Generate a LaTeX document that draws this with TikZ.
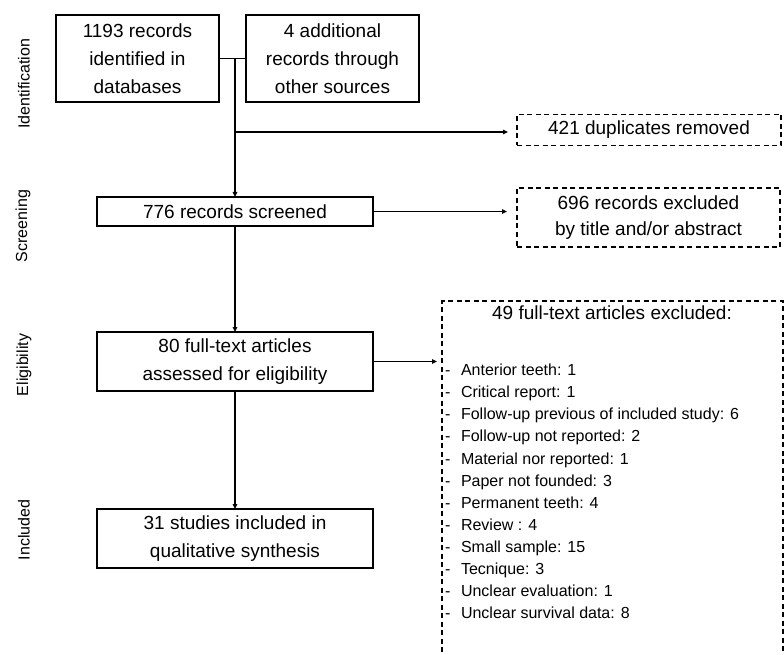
\documentclass[tikz,border=0pt]{standalone}
\usepackage{fontspec}
\setmainfont{Liberation Sans}
\usetikzlibrary{arrows.meta,calc}
\newcommand\exdash{-\hspace{10.5pt}}
\begin{document}
\begin{tikzpicture}[x=1pt,y=-1pt,
  box/.style={draw, line width=1.3pt, align=center, inner sep=0pt, outer sep=0pt, font=\fontsize{19}{28}\selectfont},
  dbox/.style={box, dash pattern=on 5pt off 3.5pt},
  link/.style={line width=1.1pt},
  arr/.style={link, -{Triangle[length=5pt,width=4.5pt]}},
  side/.style={rotate=90, inner sep=0pt, font=\fontsize{16}{19}\selectfont},
  plain/.style={inner sep=0pt, align=left, font=\fontsize{16}{22.1}\selectfont},
]
\useasboundingbox (0,0) rectangle (784,655);

% side labels
\node[side] (lid) at (24,84) {Identification};
\node[side] (lsc) at (23,226) {Screening};
\node[side] (lel) at (24,365) {Eligibility};
\node[side] (lin) at (24,530) {Included};

% main boxes
\node[box, minimum width=163pt, minimum height=87pt] (db) at (137.5,58.5) {1193 records\\identified in\\databases};
\node[box, minimum width=173pt, minimum height=87pt] (os) at (332.5,58.5) {4 additional\\records through\\other sources};
\node[dbox, minimum width=264pt, minimum height=31pt] (dup) at (649,130) {421 duplicates removed};
\node[box, minimum width=276pt, minimum height=29pt] (scr) at (235,211.5) {776 records screened};
\node[dbox, minimum width=263pt, minimum height=59pt] (exa) at (648.5,217.5) {696 records excluded\\[-2pt]by title and/or abstract};
\node[box, minimum width=276pt, minimum height=59pt] (elig) at (235,361.5) {80 full-text articles\\assessed for eligibility};
\node[box, minimum width=276pt, minimum height=59pt] (incl) at (235,538.5) {31 studies included in\\qualitative synthesis};

% large exclusion box (runs past the bottom edge)
\node[dbox, anchor=north west, minimum width=341pt, minimum height=400pt] (exf) at (442,301) {};
\node[inner sep=0pt, font=\fontsize{19}{28}\selectfont] (exft) at (612,313) {49 full-text articles excluded:};
\node[plain, anchor=west] (exfl) at (445,491.5) {%
\exdash Anterior teeth: 1\\
\exdash Critical report: 1\\
\exdash Follow-up previous of included study: 6\\
\exdash Follow-up not reported: 2\\
\exdash Material nor reported: 1\\
\exdash Paper not founded: 3\\
\exdash Permanent teeth: 4\\
\exdash Review : 4\\
\exdash Small sample: 15\\
\exdash Tecnique: 3\\
\exdash Unclear evaluation: 1\\
\exdash Unclear survival data: 8};

% connectors
\coordinate (j1) at (scr.north |- db.east);
\coordinate (j2) at (scr.north |- 0,132);
\draw[link] (db.east) -- (os.west);
\draw[arr] (j1) -- (scr.north);
\draw[arr, shorten >=9pt] (j2) -- (j2 -| dup.west);
\draw[arr, shorten >=10pt] (scr.east) -- (scr.east -| exa.west);
\draw[arr] (scr.south) -- (elig.north);
\draw[arr, shorten >=5pt] (elig.east) -- (elig.east -| exf.west);
\draw[arr] (elig.south) -- (incl.north);
\end{tikzpicture}
\end{document}
